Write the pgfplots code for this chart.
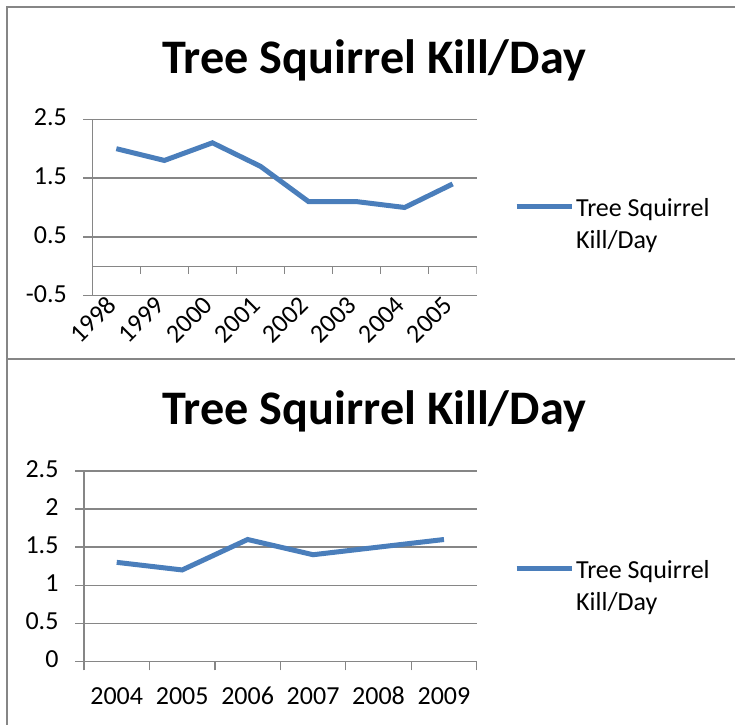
\documentclass[border=0pt]{standalone}
\usepackage{pgfplots}
\pgfplotsset{compat=1.18}
\usepackage{fontspec}
\setmainfont{Carlito}
\definecolor{serblue}{HTML}{4A7EBB}
\definecolor{gridgray}{HTML}{868686}

\newcommand{\lblfont}{\fontsize{26bp}{32bp}\selectfont}
\newcommand{\ttlfont}{\fontsize{48.2bp}{52bp}\selectfont\bfseries}

\pgfplotsset{xlchart/.style={
  scale only axis,
  axis x line*=bottom, axis y line*=left,
  axis line style={gridgray, line width=1.3bp, -},
  ymajorgrids, grid style={gridgray, line width=1.3bp},
  tick align=outside, major tick length=9bp,
  ytick style={gridgray, line width=1.3bp},
  tick label style={font=\lblfont, text=black},
  yticklabel style={xshift=-13bp},
  typeset ticklabels with strut,
  /pgf/number format/assume math mode=true,
  /pgf/number format/fixed,
  legend style={draw=none, fill=none, font=\lblfont, inner sep=0pt,
    cells={align=left}},
  legend cell align=left,
  legend image code/.code={
    \path[draw=none] (0bp,-18bp) -- (0bp,18bp);
    \draw[#1] (0bp,18bp) -- (55bp,18bp);},
}}

\begin{document}
\begin{tikzpicture}[x=1bp,y=1bp]
\path[use as bounding box] (0,0) rectangle (735,725);
% chart frames
\draw[gridgray, line width=2bp] (740,718) -- (7,718) -- (7,-5);
\draw[gridgray, line width=2bp] (7,366) -- (740,366);

% titles
\node[anchor=base] at (374.2,651.7) {\ttlfont Tree Squirrel Kill/Day};
\node[anchor=base] at (374.2,300) {\ttlfont Tree Squirrel Kill/Day};

% top chart
\begin{axis}[xlchart,
  at={(92.3bp,429.3bp)}, anchor=south west,
  width=384.4bp, height=176.4bp,
  xmin=0, xmax=8, ymin=-0.5, ymax=2.5,
  ytick={-0.5,0.5,1.5,2.5},
  xtick={0.5,1.5,2.5,3.5,4.5,5.5,6.5,7.5},
  xticklabels={1998,1999,2000,2001,2002,2003,2004,2005},
  xtick style={draw=none},
  xticklabel style={rotate=45, anchor=east, xshift=3bp, yshift=4bp},
  legend style={at={(1.097,0.562)}, anchor=north west},
]
\addplot[serblue, line width=5bp] coordinates {
  (0.5,2.0) (1.5,1.8) (2.5,2.1) (3.5,1.7) (4.5,1.1) (5.5,1.1) (6.5,1.0) (7.5,1.4)};
\addlegendentry{Tree Squirrel\\Kill/Day}
\draw[gridgray, line width=1.3bp] (axis cs:0,0) -- (axis cs:8,0);
\pgfplotsinvokeforeach{0,1,2,3,4,5,6,7,8}{
  \draw[gridgray, line width=1.3bp] (axis cs:#1,0) -- ([yshift=-8bp]axis cs:#1,0);
}
\end{axis}

% bottom chart
\begin{axis}[xlchart,
  at={(84bp,63.7bp)}, anchor=south west,
  width=392.7bp, height=190.3bp,
  xmin=0, xmax=6, ymin=0, ymax=2.5,
  ytick={0,0.5,1,1.5,2,2.5},
  xtick={0,1,2,3,4,5,6}, xticklabels={},
  xtick style={gridgray, line width=1.3bp},
  extra x ticks={0.5,1.5,2.5,3.5,4.5,5.5},
  extra x tick labels={2004,2005,2006,2007,2008,2009},
  extra x tick style={tick style={draw=none}, xticklabel style={yshift=-8bp}},
  legend style={at={(1.095,0.542)}, anchor=north west},
]
\addplot[serblue, line width=5bp] coordinates {
  (0.5,1.3) (1.5,1.2) (2.5,1.6) (3.5,1.4) (4.5,1.5) (5.5,1.6)};
\addlegendentry{Tree Squirrel\\Kill/Day}
\end{axis}
\end{tikzpicture}
\end{document}
